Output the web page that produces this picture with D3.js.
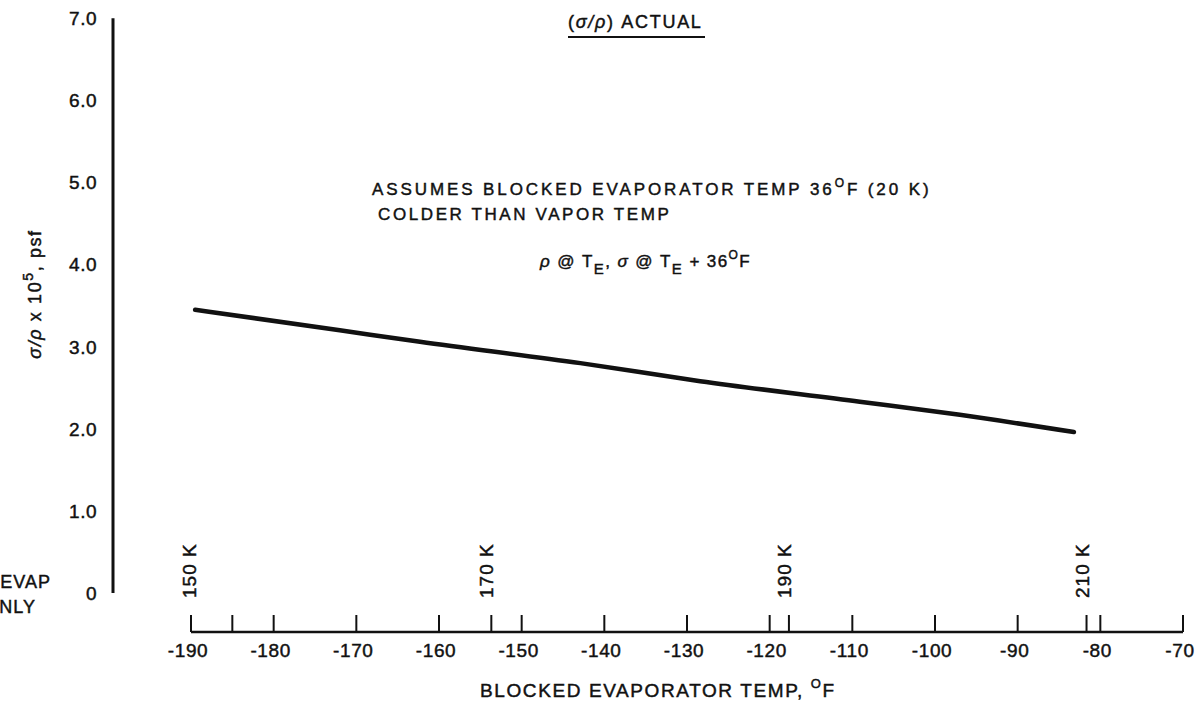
<!DOCTYPE html>
<html><head><meta charset="utf-8">
<script src="https://cdn.jsdelivr.net/npm/d3@7"></script>
<style>
body{margin:0;background:#fff;}
svg text{font-family:"Liberation Sans",Arial,sans-serif;fill:#111;stroke:#111;stroke-width:0.45px;}
</style></head>
<body>
<svg id="c" width="1203" height="706"></svg>
<script>
// ---- data ----
const tempF = [-189.5, -172.0, -162.3, -142.9, -128.4, -109.1, -97.0, -83.2];
const sigmaRho = [3.45, 3.20, 3.06, 2.80, 2.58, 2.33, 2.17, 1.96];
const yTicks = [0, 1, 2, 3, 4, 5, 6, 7];
const yTickLabels = ["0", "1.0", "2.0", "3.0", "4.0", "5.0", "6.0", "7.0"];
const xTicks = [-190, -180, -170, -160, -150, -140, -130, -120, -110, -100, -90, -80, -70];
const xMinorTicks = [-185];
const kelvinTicks = [170, 190, 210];
const kelvinLabels = [150, 170, 190, 210];

const svg = d3.select("#c");
const x = d3.scaleLinear().domain([-190, -70]).range([191, 1183]);
const y = d3.scaleLinear().domain([0, 7]).range([593, 18.3]);
const k2f = k => k * 9 / 5 - 459.67;

// Y axis
svg.append("line").attr("x1", 113).attr("x2", 113).attr("y1", y(7)).attr("y2", y(0))
  .attr("stroke", "#111").attr("stroke-width", 3);
svg.selectAll(".yl").data(yTicks).enter().append("text")
  .attr("x", 97).attr("y", d => y(d)).attr("dy", "0.36em")
  .attr("text-anchor", "end").attr("font-size", 19).attr("letter-spacing", 0.5)
  .text((d, i) => yTickLabels[i]);

// Y title
const yt = svg.append("text").attr("transform", "translate(41,294) rotate(-90)")
  .attr("text-anchor", "middle").attr("font-size", 18).attr("letter-spacing", 1.6);
yt.append("tspan").attr("font-style", "italic").text("σ/ρ");
yt.append("tspan").text(" x 10");
yt.append("tspan").attr("dy", -8).attr("font-size", 14).text("5");
yt.append("tspan").attr("dy", 8).text(", psf");

// X axis
svg.append("line").attr("x1", x(-190)).attr("x2", x(-70)).attr("y1", 632).attr("y2", 632)
  .attr("stroke", "#111").attr("stroke-width", 2.5);
const allTicks = xTicks.concat(xMinorTicks, kelvinTicks.map(k2f));
svg.selectAll(".xt").data(allTicks).enter().append("line")
  .attr("x1", d => x(d)).attr("x2", d => x(d)).attr("y1", 615).attr("y2", 632)
  .attr("stroke", "#111").attr("stroke-width", 2);
svg.selectAll(".xl").data(xTicks).enter().append("text")
  .attr("x", d => x(d) - 3).attr("y", 657).attr("text-anchor", "middle")
  .attr("font-size", 19).attr("letter-spacing", 0.6)
  .text(d => d);
svg.selectAll(".kl").data(kelvinLabels).enter().append("text")
  .attr("transform", d => `translate(${x(k2f(d)) + 2},598) rotate(-90)`)
  .attr("font-size", 19).attr("letter-spacing", 1)
  .text(d => d + " K");

// X title
const xt = svg.append("text").attr("x", 480).attr("y", 697).attr("font-size", 19)
  .attr("letter-spacing", 1.6);
xt.append("tspan").text("BLOCKED EVAPORATOR TEMP, ");
xt.append("tspan").attr("dy", -9).attr("font-size", 13).text("O");
xt.append("tspan").attr("dy", 9).text("F");

// curve
svg.append("path").datum(tempF.map((t, i) => [t, sigmaRho[i]]))
  .attr("fill", "none").attr("stroke", "#111").attr("stroke-width", 4.5).attr("stroke-linecap", "round")
  .attr("d", d3.line().curve(d3.curveMonotoneX).x(d => x(d[0])).y(d => y(d[1])));

// title
const tt = svg.append("text").attr("x", 568).attr("y", 28).attr("font-size", 18)
  .attr("letter-spacing", 1.7);
tt.append("tspan").text("(");
tt.append("tspan").attr("font-style", "italic").text("σ/ρ");
tt.append("tspan").text(") ACTUAL");
svg.append("line").attr("x1", 568).attr("x2", 705).attr("y1", 37).attr("y2", 37)
  .attr("stroke", "#111").attr("stroke-width", 2);

// annotations
const a1 = svg.append("text").attr("x", 372).attr("y", 195).attr("font-size", 17)
  .attr("letter-spacing", 2.9);
a1.append("tspan").text("ASSUMES BLOCKED EVAPORATOR TEMP 36");
a1.append("tspan").attr("dy", -8).attr("font-size", 12).text("O");
a1.append("tspan").attr("dy", 8).text("F (20 K)");
svg.append("text").attr("x", 378).attr("y", 220).attr("font-size", 17)
  .attr("letter-spacing", 2.6).text("COLDER THAN VAPOR TEMP");

const a3 = svg.append("text").attr("x", 540).attr("y", 267).attr("font-size", 17)
  .attr("letter-spacing", 1.4);
a3.append("tspan").attr("font-style", "italic").text("ρ");
a3.append("tspan").text(" @ T");
a3.append("tspan").attr("dy", 7).attr("font-size", 15).text("E");
a3.append("tspan").attr("dy", -7).text(", ");
a3.append("tspan").attr("font-style", "italic").text("σ");
a3.append("tspan").text(" @ T");
a3.append("tspan").attr("dy", 7).attr("font-size", 15).text("E");
a3.append("tspan").attr("dy", -7).text(" + 36");
a3.append("tspan").attr("dy", -8).attr("font-size", 12).text("O");
a3.append("tspan").attr("dy", 8).text("F");

// cut-off left note (cut at page edge in the reference too)
svg.append("text").attr("x", 51).attr("y", 588).attr("text-anchor", "end").attr("font-size", 18)
  .attr("letter-spacing", 1).text("EVAP");
svg.append("text").attr("x", 36).attr("y", 613).attr("text-anchor", "end").attr("font-size", 18)
  .attr("letter-spacing", 1).text("ONLY");
</script>
</body></html>
